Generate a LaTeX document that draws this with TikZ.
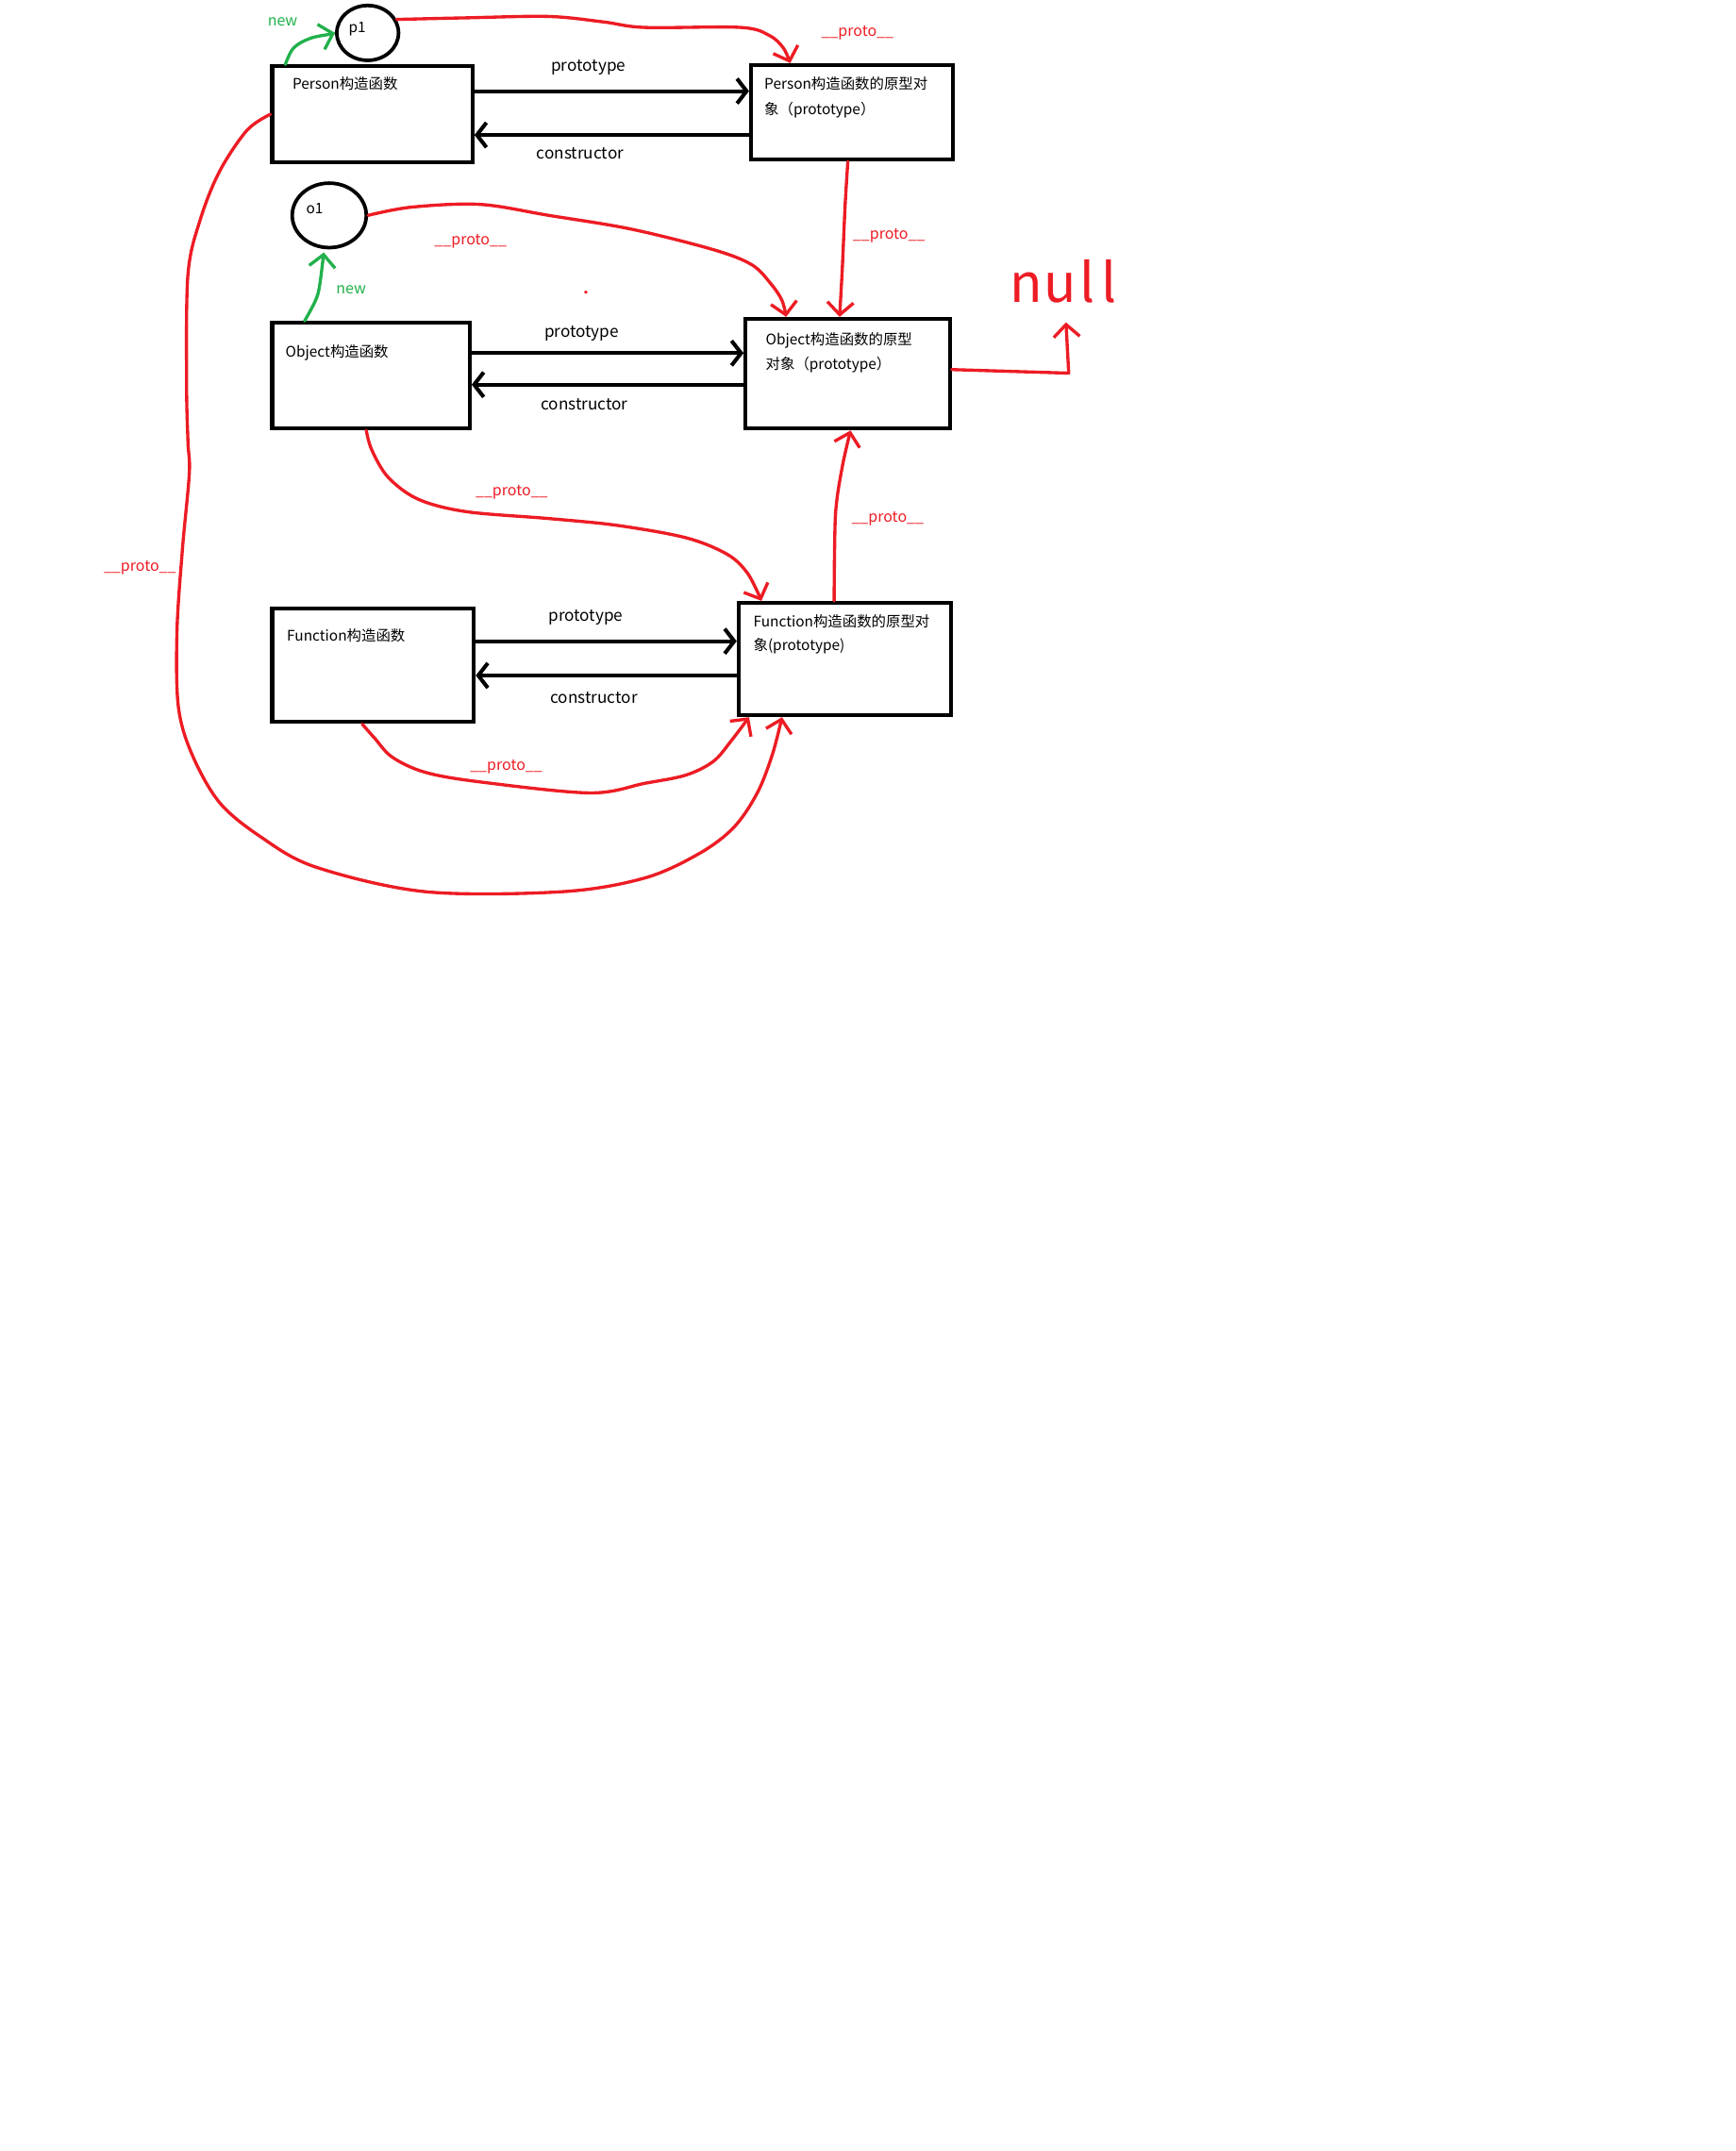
\documentclass[tikz,border=0pt]{standalone}
\usepackage{fontspec}
\setmainfont{Noto Sans CJK SC}
\usetikzlibrary{arrows.meta,shapes.geometric}
\definecolor{pred}{HTML}{ED1C24}
\definecolor{pgreen}{HTML}{22B14C}
\tikzset{
  box/.style={draw=black, line width=2.8pt, inner sep=0pt, anchor=north west},
  inst/.style={draw=black, line width=2.6pt, ellipse, inner sep=0pt},
  btxt/.style={anchor=west, inner sep=0pt, font=\fontsize{10.6}{13}\selectfont},
  lbl/.style={inner sep=0pt, font=\fontsize{11.8}{14}\selectfont},
  plbl/.style={inner sep=0pt, text=pred, font=\fontsize{11}{13}\selectfont},
  nlbl/.style={inner sep=0pt, text=pgreen, font=\fontsize{11}{13}\selectfont},
  barb/.tip={Straight Barb[length=7pt,width=18pt]},
  rbarb/.tip={Straight Barb[length=9pt,width=19pt]},
  blk/.style={draw=black, line width=2.8pt, -barb},
  rline/.style={draw=pred, line width=2.3pt, line cap=round, line join=round, -rbarb},
  gline/.style={draw=pgreen, line width=2.3pt, line cap=round, line join=round, -rbarb},
}
\begin{document}
\begin{tikzpicture}[x=1pt,y=-1pt]
\useasboundingbox[fill=white] (0,0) rectangle (1265,1568);

% constructors and prototype objects
\node[box, minimum width=146pt, minimum height=70pt] (person) at (197,47) {};
\node[box, minimum width=147pt, minimum height=69pt] (pproto) at (546,46) {};
\node[box, minimum width=144pt, minimum height=77pt] (object) at (197,234) {};
\node[box, minimum width=149pt, minimum height=80pt] (oproto) at (542,231) {};
\node[box, minimum width=147pt, minimum height=83pt] (function) at (197,442) {};
\node[box, minimum width=155pt, minimum height=82pt] (fproto) at (537,438) {};

% instances
\node[inst, minimum width=45pt, minimum height=40pt] (p1) at (268,24) {};
\node[inst, minimum width=54pt, minimum height=47pt] (o1) at (240,157) {};
\node[btxt] (p1t) at (254,21) {p1};
\node[btxt] (o1t) at (223,152) {o1};

% box captions
\node[btxt] (persont) at (213,61) {Person构造函数};
\node[btxt] (pprotot1) at (557,61) {Person构造函数的原型对};
\node[btxt] (pprotot2) at (557,80) {象（prototype）};
\node[btxt] (objectt) at (208,257) {Object构造函数};
\node[btxt] (oprotot1) at (558,248) {Object构造函数的原型};
\node[btxt] (oprotot2) at (558,266) {对象（prototype）};
\node[btxt] (functiont) at (209,463) {Function构造函数};
\node[btxt] (fprotot1) at (549,453) {Function构造函数的原型对};
\node[btxt] (fprotot2) at (549,471) {象(prototype)};

% prototype / constructor links
\draw[blk] ([yshift=17pt]person.east) -- ([yshift=15.5pt]pproto.west);
\draw[blk] ([yshift=-16.5pt]pproto.west) -- ([yshift=-15pt]person.east);
\draw[blk] ([yshift=16.5pt]object.east) -- ([yshift=15pt]oproto.west);
\draw[blk] ([yshift=-8pt]oproto.west) -- ([yshift=-6.5pt]object.east);
\draw[blk] ([yshift=17.5pt]function.east) -- ([yshift=13pt]fproto.west);
\draw[blk] ([yshift=-12pt]fproto.west) -- ([yshift=-7.5pt]function.east);

\node[lbl] (l1) at (429,49) {prototype};
\node[lbl] (l2) at (423,112) {constructor};
\node[lbl] (l3) at (424,243) {prototype};
\node[lbl] (l4) at (426,295) {constructor};
\node[lbl] (l5) at (427,450) {prototype};
\node[lbl] (l6) at (433,509) {constructor};

% new
\draw[gline] plot[smooth, tension=0.6] coordinates
  {([xshift=11pt]person.north west) (214,35) (226,28) (240,25) (p1.west)};
\draw[gline] plot[smooth, tension=0.6] coordinates
  {([xshift=25pt]object.north west) (230,219) (233,208) (236,184)};
\node[nlbl] (n1) at (206,16) {new};
\node[nlbl] (n2) at (256,211) {new};

% __proto__ chain
\draw[rline] plot[smooth, tension=0.55] coordinates
  {(p1.25) (340,13) (400,12) (440,16) (470,20) (540,20) (561,26) (571,35) ([xshift=30pt]pproto.north west)};
\draw[rline] plot[smooth, tension=0.5] coordinates
  {([xshift=72pt]pproto.south west) (616,150) (614,195) ([xshift=70pt]oproto.north west)};
\draw[rline] plot[smooth, tension=0.55] coordinates
  {(o1.east) (300,151) (350,149) (400,157) (460,167) (520,182) (548,193) (562,207) (570,219) ([xshift=31pt]oproto.north west)};
\draw[rline] plot[smooth, tension=0.55] coordinates
  {([xshift=70pt]object.south west) (271,328) (283,348) (305,364) (340,373) (400,378) (450,383) (500,392) (530,404) (545,418) ([xshift=18pt]fproto.north west)};
\draw[rline] plot[smooth, tension=0.5] coordinates
  {([xshift=71pt]fproto.north west) (609,375) (614,340) ([xshift=78pt]oproto.south west)};
\draw[rline] plot[smooth, tension=0.55] coordinates
  {([xshift=67pt]function.south west) (273,538) (286,552) (310,563) (350,570) (430,578) (470,571) (500,565) (520,555) (533,540) ([xshift=9pt]fproto.south west)};
\draw[rline] plot[smooth, tension=0.55] coordinates
  {(person.west) (180,95) (160,125) (146,160) (137,200) (136,280) (137,322) (138,345) (133,400) (129,460) (130,515) (140,550) (160,585) (190,610) (230,632) (310,650) (410,650) (470,640) (510,622) (535,603) (552,578) (563,550) ([xshift=33pt]fproto.south west)};

% null
\node[inner sep=0pt, text=pred, font=\fontsize{39}{44}\selectfont] (null) at (775,205) {n\kern1.5pt u\kern2.5pt l\kern4.5pt l};
\coordinate (nulltip) at (777,235);
\draw[rline] ([yshift=3pt]oproto.east) -- (779,272) -- (nulltip);

% __proto__ labels
\node[plbl] (r1) at (625,24) {\_\_proto\_\_};
\node[plbl] (r2) at (648,172) {\_\_proto\_\_};
\node[plbl] (r3) at (343,176) {\_\_proto\_\_};
\node[plbl] (r4) at (373,359) {\_\_proto\_\_};
\node[plbl] (r5) at (647,378) {\_\_proto\_\_};
\node[plbl] (r6) at (369,559) {\_\_proto\_\_};
\node[plbl] (r7) at (102,414) {\_\_proto\_\_};

% stray mark
\fill[pred] (427,213) circle (1.3pt);
\end{tikzpicture}
\end{document}
